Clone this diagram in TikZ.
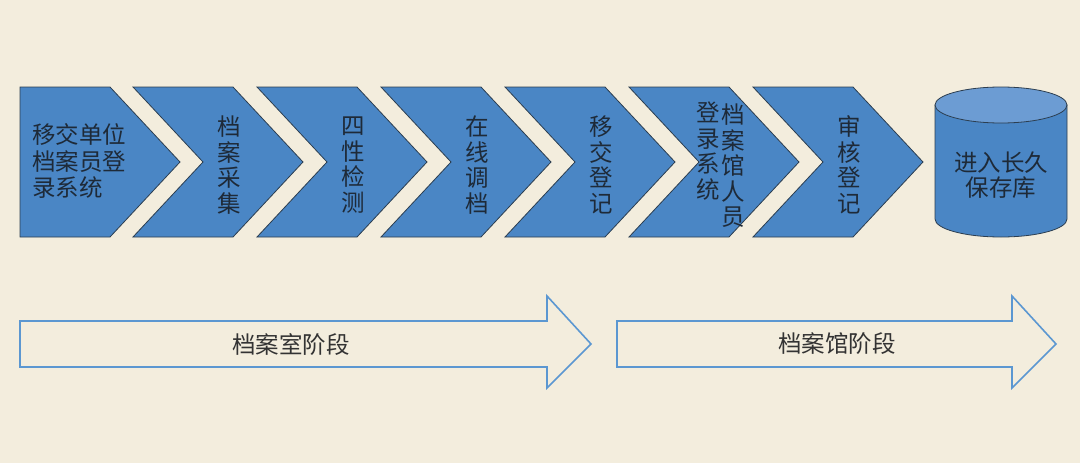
\documentclass[tikz,border=0pt]{standalone}
\usepackage{fontspec}
\setmainfont{Noto Sans CJK SC}
\definecolor{paper}{HTML}{F3EDDD}
\definecolor{chevblue}{HTML}{4A86C5}
\definecolor{toplid}{HTML}{6C9CD3}
\definecolor{chevline}{HTML}{2C3E50}
\definecolor{stageline}{HTML}{5B97D1}
\definecolor{ink}{HTML}{1E2A38}
\begin{document}
\begin{tikzpicture}[x=1pt,y=-1pt,line join=miter]
	\tikzset{chev/.style={fill=chevblue,draw=chevline,line width=0.8pt},
		lbl/.style={text=ink,font=\fontsize{23.5}{25.5}\selectfont,align=center,inner sep=0pt},
		stage/.style={draw=stageline,line width=1.6pt,fill=paper}}
	\useasboundingbox[fill=paper] (0,0) rectangle (1080,463);
	% first step, flat left side
	\draw[chev] (20,87)--(110,87)--(180,162)--(110,237)--(20,237)--cycle;
	\node[lbl,align=left,anchor=west,font=\fontsize{23.5}{26.5}\selectfont] (s0) at (32,161) {移交单位\\档案员登\\录系统};
	% chevrons
	\foreach \i in {1,...,6}
	\draw[chev] ({133+124*(\i-1)},87)--++(100,0)--++(70,75)--++(-70,75)--++(-100,0)--++(70,-75)--cycle;
	\foreach \i/\txt in {1/{档\\案\\采\\集},2/{四\\性\\检\\测},3/{在\\线\\调\\档},4/{移\\交\\登\\记},6/{审\\核\\登\\记}}
	\node[lbl] (s\i) at ({229+124*(\i-1)},165) {\txt};
	\node[lbl] (s5a) at (733,166) {档\\案\\馆\\人\\员};
	\node[lbl] (s5b) at (708,151) {登\\录\\系\\统};
	% storage
	\draw[chev] (935,105)--(935,219) arc[start angle=180,end angle=0,x radius=66,y radius=18]--(1067,105)--cycle;
	\draw[chev,fill=toplid] (1001,105) ellipse[x radius=66,y radius=18];
	\node[lbl] (store) at (1001,175) {进入长久\\保存库};
	% stages
	\draw[stage] (20,321)--(547,321)--(547,296)--(591,344)--(547,388)--(547,367)--(20,367)--cycle;
	\node[lbl,text=black!80] (room) at (291,344) {档案室阶段};
	\draw[stage] (617,321)--(1012,321)--(1012,296)--(1056,344)--(1012,388)--(1012,367)--(617,367)--cycle;
	\node[lbl,text=black!80] (hall) at (837,344) {档案馆阶段};
\end{tikzpicture}
\end{document}
